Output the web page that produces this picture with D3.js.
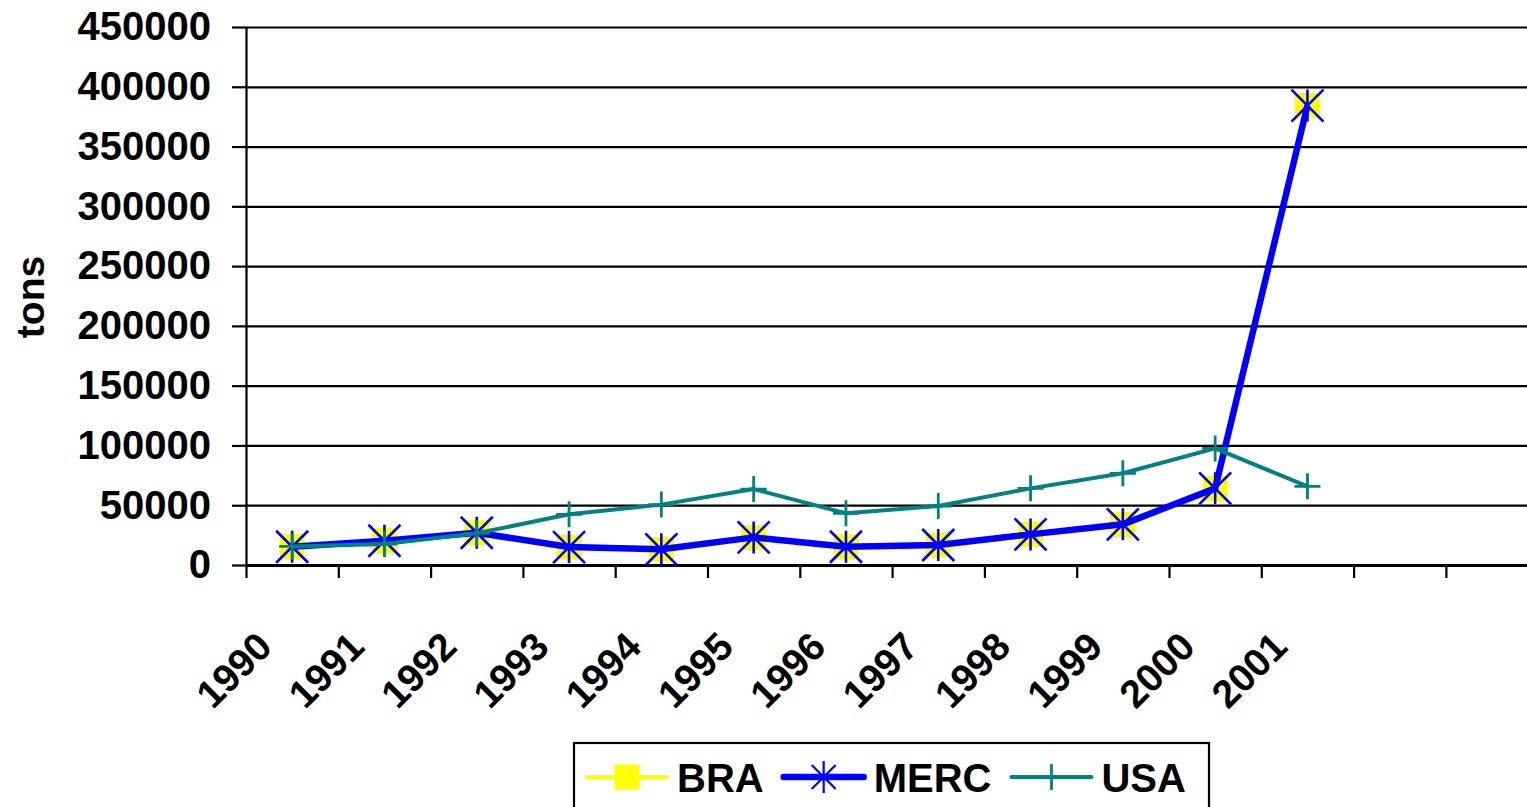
<!DOCTYPE html>
<html>
<head>
<meta charset="utf-8">
<script src="https://cdn.jsdelivr.net/npm/d3@7"></script>
<style>
	body { margin: 0; background: #fff; }
	svg { display: block; }
	text { font-family: "Liberation Sans", Arial, sans-serif; font-weight: bold; fill: #000; }
</style>
</head>
<body>
<svg id="chart" width="1527" height="807"></svg>
<script>
// categories on the x axis (the last two slots are empty in the original)
var categories = ["1990", "1991", "1992", "1993", "1994", "1995", "1996", "1997", "1998", "1999", "2000", "2001", "", ""];
var yTicks = [0, 50000, 100000, 150000, 200000, 250000, 300000, 350000, 400000, 450000];

var braValues  = [15300, 20300, 27000, 15000, 13100, 23100, 15300, 16700, 25600, 34000, 64100, 384300];
var mercValues = [15300, 20300, 27000, 15000, 13100, 23100, 15300, 16700, 25600, 34000, 64100, 384300];
var usaValues  = [15500, 17500, 26500, 42400, 50500, 63500, 43200, 49300, 64100, 76700, 97500, 65800];

var seriesNames = ["BRA", "MERC", "USA"];

var width = 1527,
	height = 807,
	marginLeft = 246,
	plotTop = 27,
	plotBottom = 565,
	bandW = 92.3;

var svg = d3.select("#chart");

var x = d3.scaleBand()
	.domain(d3.range(categories.length))
	.range([marginLeft, marginLeft + categories.length * bandW]);
var xEdge = d3.scaleLinear()
	.domain([0, categories.length])
	.range(x.range());
var y = d3.scaleLinear()
	.domain([0, 450000])
	.range([plotBottom, plotTop]);

// gridlines
var grid = svg.append("g")
	.attr("transform", "translate(" + marginLeft + ",0)")
	.call(d3.axisLeft(y).tickValues(yTicks.slice(1)).tickSize(-(width - marginLeft + 20)).tickFormat(""));
grid.select(".domain").remove();
grid.selectAll("line").attr("stroke", "#000").attr("stroke-width", 2.2);

// y axis
var yAxis = svg.append("g")
	.attr("transform", "translate(" + marginLeft + ",0)")
	.call(d3.axisLeft(y).tickValues(yTicks).tickSize(14).tickSizeOuter(0).tickPadding(21).tickFormat(d3.format("d")));
yAxis.select(".domain").attr("stroke", "#000").attr("stroke-width", 2.2);
yAxis.selectAll("line").attr("stroke", "#000").attr("stroke-width", 2.2);
yAxis.selectAll("text").style("font-size", "40px").attr("fill", "#000");

svg.append("text")
	.attr("transform", "translate(44,297) rotate(-90)")
	.attr("text-anchor", "middle")
	.style("font-size", "39px")
	.text("tons");

// x axis ticks at category edges
var xAxis = svg.append("g")
	.attr("transform", "translate(0," + plotBottom + ")")
	.call(d3.axisBottom(xEdge).tickValues(d3.range(categories.length + 1)).tickSize(13).tickSizeOuter(0).tickFormat(""));
xAxis.select(".domain").attr("stroke", "#000").attr("stroke-width", 3);
xAxis.selectAll("line").attr("stroke", "#000").attr("stroke-width", 2.2);

// x labels, rotated
var xLabels = svg.append("g")
	.attr("transform", "translate(0," + plotBottom + ")")
	.call(d3.axisBottom(x).tickSize(0).tickFormat(function(i) { return categories[i]; }));
xLabels.select(".domain").remove();
xLabels.selectAll("text")
	.attr("y", 0)
	.attr("dy", 0)
	.attr("text-anchor", "end")
	.attr("transform", "translate(-18,84) rotate(-45)")
	.attr("fill", "#000")
	.style("font-size", "39px");

function cx(i) { return x(i) + x.bandwidth() / 2; }

var line = d3.line()
	.x(function(d, i) { return cx(i); })
	.y(function(d) { return y(d); });

function squareMarker(g, color) {
	g.append("rect").attr("x", -12.5).attr("y", -12.5).attr("width", 25).attr("height", 25).attr("fill", color);
}
function starMarker(g, color) {
	g.append("path")
		.attr("d", "M-16,-16L16,16M-16,16L16,-16M0,-16L0,16")
		.attr("stroke", color).attr("stroke-width", 2.6).attr("fill", "none");
}
function plusMarker(g, color) {
	g.append("path")
		.attr("d", "M-13,0L13,0M0,-13L0,13")
		.attr("stroke", color).attr("stroke-width", 2.8).attr("fill", "none");
}

var series = [
	{ name: seriesNames[0], values: braValues,  color: "#FFFF00", width: 4,   marker: squareMarker },
	{ name: seriesNames[1], values: mercValues, color: "#0000FF", width: 6.5, marker: starMarker },
	{ name: seriesNames[2], values: usaValues,  color: "#008080", width: 4,   marker: plusMarker }
];

series.forEach(function(s) {
	svg.append("path")
		.datum(s.values)
		.attr("d", line)
		.attr("fill", "none")
		.attr("stroke", s.color)
		.attr("stroke-width", s.width)
		.attr("stroke-linejoin", "round");
	svg.append("g").selectAll("g")
		.data(s.values)
		.enter()
		.append("g")
		.attr("transform", function(d, i) { return "translate(" + cx(i) + "," + y(d) + ")"; })
		.each(function() { s.marker(d3.select(this), s.color); });
});

// legend
var legend = svg.append("g");
legend.append("rect")
	.attr("x", 574).attr("y", 743)
	.attr("width", 635).attr("height", 90)
	.attr("fill", "#fff").attr("stroke", "#000").attr("stroke-width", 2.2);

var lx = 587, ly = 777;
series.forEach(function(s) {
	var item = legend.append("g");
	item.append("line")
		.attr("x1", lx).attr("x2", lx + 80)
		.attr("y1", ly).attr("y2", ly)
		.attr("stroke", s.color)
		.attr("stroke-width", s.width)
		.attr("stroke-linecap", "round");
	var m = item.append("g").attr("transform", "translate(" + (lx + 40) + "," + ly + ")");
	if (s.marker === starMarker) {
		m.append("path")
			.attr("d", "M-12,-12L12,12M-12,12L12,-12M0,-16L0,16")
			.attr("stroke", s.color).attr("stroke-width", 2.2).attr("fill", "none");
	} else {
		s.marker(m, s.color);
	}
	var t = item.append("text")
		.attr("x", lx + 90)
		.attr("y", ly + 15)
		.style("font-size", "40px")
		.text(s.name);
	lx = lx + 90 + t.node().getComputedTextLength() + 20;
});
</script>
</body>
</html>
